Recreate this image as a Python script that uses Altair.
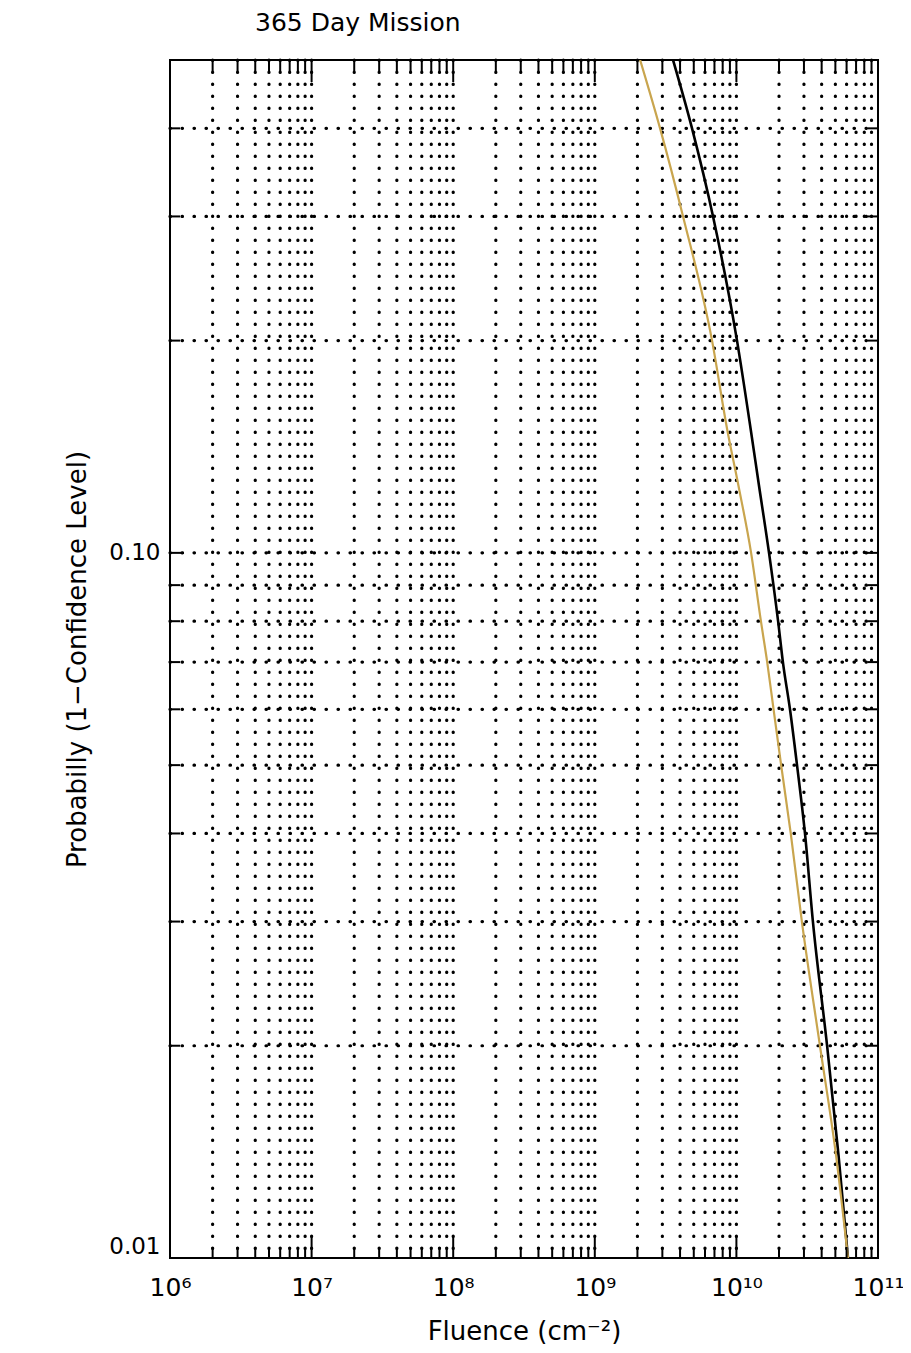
import altair as alt
import pandas as pd

# ---- data ----
prob = [0.5, 0.4, 0.3, 0.2, 0.15, 0.125, 0.1, 0.08, 0.07, 0.06, 0.05, 0.04, 0.03, 0.02, 0.014, 0.01]
fluence_black = [3.57e9, 4.86e9, 6.84e9, 1.01e10, 1.26e10, 1.44e10, 1.70e10, 1.97e10, 2.13e10,
                 2.39e10, 2.68e10, 3.05e10, 3.47e10, 4.37e10, 5.26e10, 6.14e10]
fluence_gold = [2.09e9, 2.89e9, 4.20e9, 6.73e9, 8.59e9, 1.03e10, 1.27e10, 1.49e10, 1.65e10,
                1.83e10, 2.07e10, 2.42e10, 2.90e10, 3.89e10, 5.05e10, 6.14e10]

x_label_values = [1e6, 1e7, 1e8, 1e9, 1e10, 1e11]
x_major_ticks = [1e7, 1e8, 1e9, 1e10]
x_minor_ticks = [m * 10.0 ** d for d in range(6, 11) for m in range(2, 10)]
y_label_values = [0.01, 0.1]
y_major_ticks = [0.1]
y_minor_ticks = [0.02, 0.03, 0.04, 0.05, 0.06, 0.07, 0.08, 0.09, 0.2, 0.3, 0.4]

W, H = 708, 1198
FONT = "DejaVu Sans"
GOLD = "#C9A54E"

xscale = alt.Scale(type="log", domain=[1e6, 1e11], nice=False)
yscale = alt.Scale(type="log", domain=[0.01, 0.5], nice=False)

x_axis = alt.Axis(
    values=x_label_values,
    labelExpr="'10' + ['⁶','⁷','⁸','⁹','¹⁰','¹¹'][round(log(datum.value)/LN10) - 6]",
    ticks=False, domain=False, grid=False, labelFlush=False,
    title="Fluence (cm⁻²)", labelFontSize=25, titleFontSize=26, labelPadding=17,
    titlePadding=18, labelFont=FONT, titleFont=FONT, labelColor="black", titleColor="black",
    titleFontWeight="normal")
y_axis = alt.Axis(
    values=y_label_values, format=".2f", ticks=False, domain=False, grid=False,
    labelFlush=True, title="Probabilly (1−Confidence Level)", labelFontSize=23,
    titleFontSize=26, labelPadding=10, titlePadding=18, labelFont=FONT, titleFont=FONT,
    labelColor="black", titleColor="black", titleFontWeight="normal")

df_black = pd.DataFrame({"f": fluence_black, "p": prob})
df_gold = pd.DataFrame({"f": fluence_gold, "p": prob})
df_xgrid = pd.DataFrame({"v": x_major_ticks + x_minor_ticks})
df_ygrid = pd.DataFrame({"v": y_major_ticks + y_minor_ticks})
df_xmaj = pd.DataFrame({"v": x_major_ticks})
df_xmin = pd.DataFrame({"v": x_minor_ticks})
df_ymaj = pd.DataFrame({"v": y_major_ticks})
df_ymin = pd.DataFrame({"v": y_minor_ticks})

black_line = alt.Chart(df_black).mark_line(
    color="black", strokeWidth=2.6, clip=True, interpolate="monotone").encode(
    x=alt.X("f:Q", scale=xscale, axis=x_axis),
    y=alt.Y("p:Q", scale=yscale, axis=y_axis),
    order=alt.Order("f:Q"))
gold_line = alt.Chart(df_gold).mark_line(
    color=GOLD, strokeWidth=2.2, clip=True, interpolate="monotone").encode(
    x=alt.X("f:Q", scale=xscale, axis=x_axis),
    y=alt.Y("p:Q", scale=yscale, axis=y_axis),
    order=alt.Order("f:Q"))

dot = dict(color="black", strokeWidth=3.2, strokeDash=[0.5, 11.5], strokeCap="round")

vgrid = alt.Chart(df_xgrid).mark_rule(**dot).encode(
    x=alt.X("v:Q", scale=xscale, axis=x_axis), y=alt.value(0), y2=alt.value(H))
hgrid = alt.Chart(df_ygrid).mark_rule(**dot).encode(
    y=alt.Y("v:Q", scale=yscale, axis=y_axis), x=alt.value(0), x2=alt.value(W))


def xticks(df, length):
    base = alt.Chart(df).mark_rule(color="black", strokeWidth=2)
    bot = base.encode(x=alt.X("v:Q", scale=xscale, axis=x_axis), y=alt.value(H), y2=alt.value(H - length))
    top = base.encode(x=alt.X("v:Q", scale=xscale, axis=x_axis), y=alt.value(0), y2=alt.value(length))
    return [bot, top]


def yticks(df, length):
    base = alt.Chart(df).mark_rule(color="black", strokeWidth=2)
    left = base.encode(y=alt.Y("v:Q", scale=yscale, axis=y_axis), x=alt.value(0), x2=alt.value(length))
    right = base.encode(y=alt.Y("v:Q", scale=yscale, axis=y_axis), x=alt.value(W), x2=alt.value(W - length))
    return [left, right]


ticks = xticks(df_xmaj, 22) + xticks(df_xmin, 11) + yticks(df_ymaj, 14) + yticks(df_ymin, 10)

chart = alt.layer(black_line, vgrid, hgrid, gold_line, *ticks).properties(
    width=W, height=H,
    title=alt.TitleParams("365 Day Mission", anchor="start", frame="group", dx=85, fontSize=25,
                          font=FONT, fontWeight="normal", color="black", offset=22),
    autosize=alt.AutoSizeParams(type="none"),
    padding={"left": 162, "top": 52, "right": 25, "bottom": 92},
).configure(background="white").configure_view(stroke="black", strokeWidth=2)

chart.save("out.html", embed_options={"renderer": "svg", "actions": False})
